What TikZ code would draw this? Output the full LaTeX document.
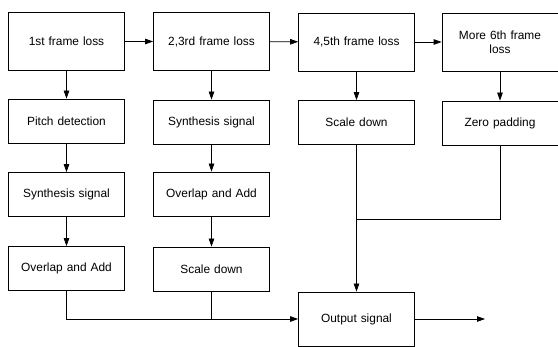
\documentclass[tikz,border=0pt]{standalone}
\usepackage{fontspec}
\setmainfont{Liberation Sans}
\usetikzlibrary{arrows.meta,positioning}

\begin{document}
\begin{tikzpicture}[x=1pt, y=-1pt,
  blk/.style={draw, rectangle, line width=0.75pt,
    minimum width=116pt, minimum height=44pt,
    text width=106pt, align=center,
    font=\fontsize{11.9}{14}\selectfont},
  lossbox/.style={blk, minimum height=58pt},
  arr/.style={-{Triangle[length=8pt,width=5.5pt]}, line width=0.75pt},
  ln/.style={line width=0.75pt}]
  \useasboundingbox (0,0) rectangle (558,347);
  % Frame loss cases
  \node[lossbox] (loss1)  at (66.5,41.5) {1st frame loss};
  \node[lossbox] (loss23) at (211.5,41.5) {2,3rd frame loss};
  \node[lossbox] (loss45) at (356.5,42) {4,5th frame loss};
  \node[lossbox] (loss6)  at (500,42) {More 6th frame\\loss};
  % Processing steps
  \node[blk] (pitch)   at (66.5,121) {Pitch detection};
  \node[blk] (synth1)  at (66.5,194.5) {Synthesis signal};
  \node[blk] (ola1)    at (66.5,268.5) {Overlap and Add};
  \node[blk] (synth23) at (211.5,122) {Synthesis signal};
  \node[blk] (ola23)   at (211.5,194) {Overlap and Add};
  \node[blk] (scale23) at (211.5,269) {Scale down};
  \node[blk] (scale45) at (356.5,122.5) {Scale down};
  \node[blk] (zero6)   at (500,123) {Zero padding};
  \node[blk, minimum height=54pt] (out) at (356.5,319) {Output signal};
  \coordinate (mrg) at (356.5,219);
  \coordinate (end) at (485,319);
  % Arrows
  \draw[arr] (loss1) -- (loss23);
  \draw[arr] (loss23) -- (loss45);
  \draw[arr] (loss45) -- (loss6);
  \draw[arr] (loss1) -- (pitch);
  \draw[arr] (pitch) -- (synth1);
  \draw[arr] (synth1) -- (ola1);
  \draw[arr] (loss23) -- (synth23);
  \draw[arr] (synth23) -- (ola23);
  \draw[arr] (ola23) -- (scale23);
  \draw[arr] (loss45) -- (scale45);
  \draw[arr] (loss6.south) -- (zero6.north -| loss6.south);
  % Merging lines
  \draw[arr] (ola1.south) |- (out.west);
  \draw[ln] (scale23.south) -- (scale23.south |- out.west);
  \draw[arr] (scale45.south) -- (out.north);
  \draw[ln] (zero6.south) |- (mrg);
  \draw[arr] (out.east) -- (end);
\end{tikzpicture}
\end{document}
